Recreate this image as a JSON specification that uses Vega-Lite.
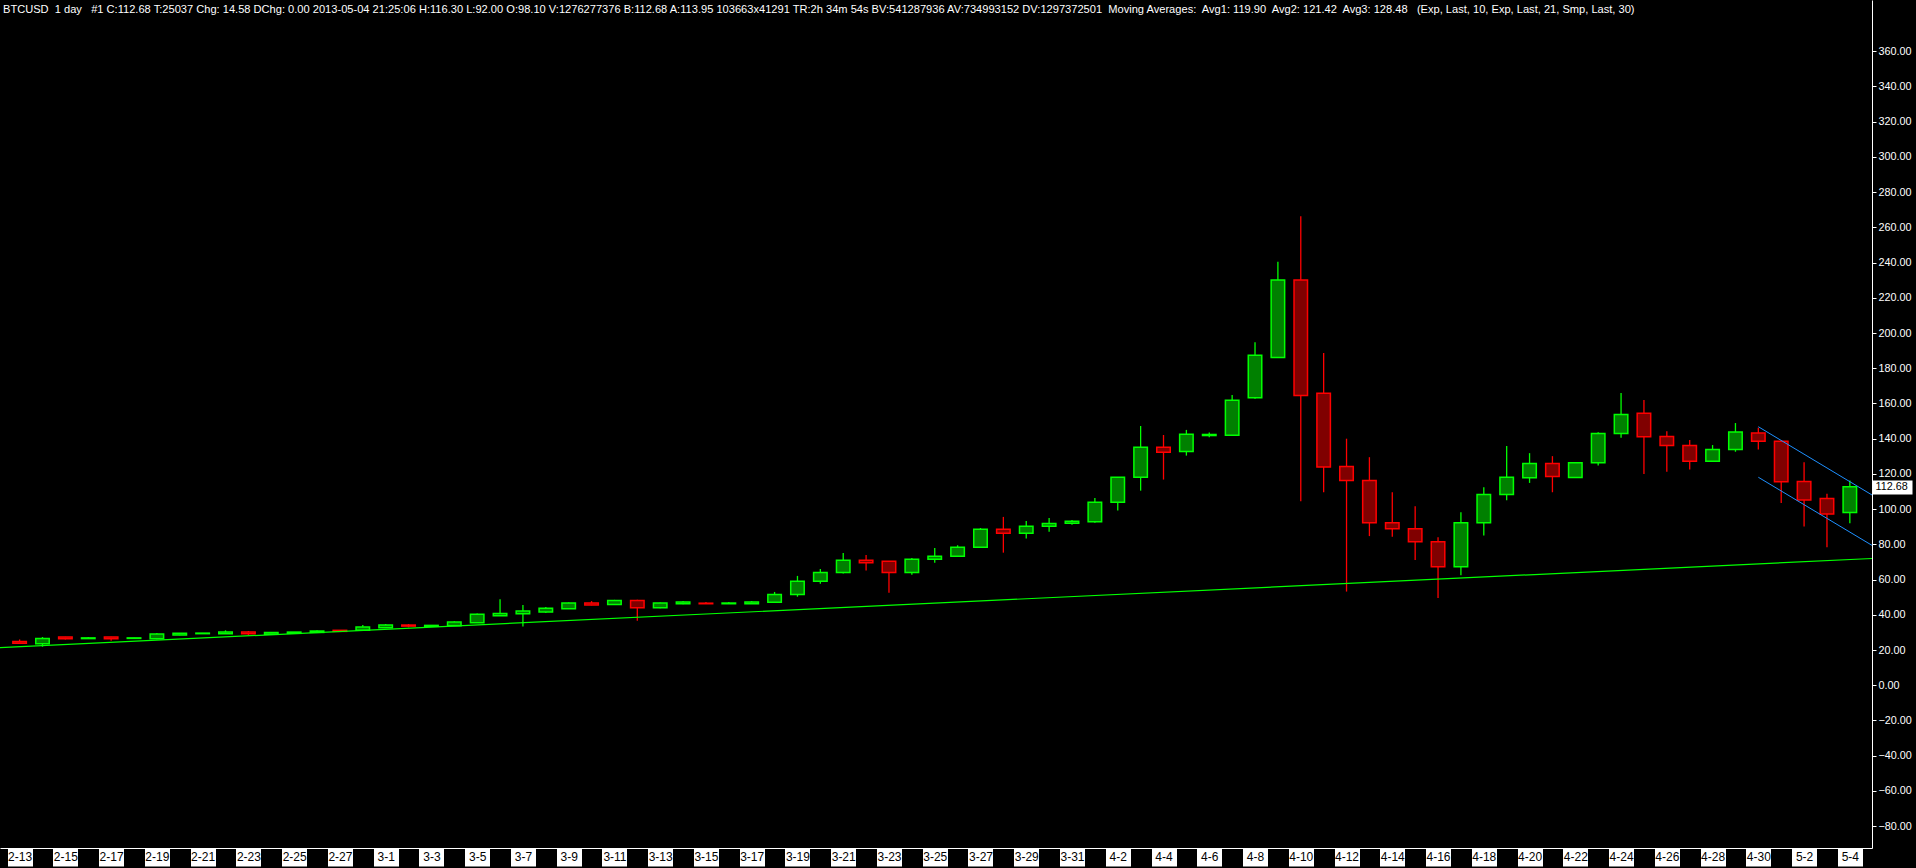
{
  "$schema": "https://vega.github.io/schema/vega-lite/v6.json",
  "width": 1872,
  "height": 848,
  "autosize": {"type": "none"},
  "padding": {"left": 0, "top": 0, "right": 44, "bottom": 20},
  "background": "#000000",
  "title": {
    "text": "BTCUSD\u00a0 1 day\u00a0\u00a0 #1 C:112.68 T:25037 Chg: 14.58 DChg: 0.00 2013-05-04 21:25:06 H:116.30 L:92.00 O:98.10 V:1276277376 B:112.68 A:113.95 103663x41291 TR:2h 34m 54s BV:541287936 AV:734993152 DV:1297372501\u00a0 Moving Averages:\u00a0 Avg1: 119.90\u00a0 Avg2: 121.42\u00a0 Avg3: 128.48\u00a0\u00a0 (Exp, Last, 10, Exp, Last, 21, Smp, Last, 30)",
    "anchor": "start",
    "frame": "group",
    "color": "#ffffff",
    "font": "Liberation Sans, Arial, sans-serif",
    "fontSize": 11.1,
    "fontWeight": "normal",
    "baseline": "top",
    "offset": -15,
    "dx": 3
  },
  "config": {
    "view": {"stroke": null},
    "axis": {"grid": false}
  },
  "datasets": {
    "ohlc": [
      {"date": "2013-02-13", "open": 24.9, "high": 26.0, "low": 23.7, "close": 23.8},
      {"date": "2013-02-14", "open": 23.6, "high": 27.4, "low": 21.9, "close": 26.6},
      {"date": "2013-02-15", "open": 27.4, "high": 27.5, "low": 26.0, "close": 26.4},
      {"date": "2013-02-16", "open": 26.5, "high": 27.4, "low": 26.4, "close": 26.9},
      {"date": "2013-02-17", "open": 27.4, "high": 27.5, "low": 25.3, "close": 26.4},
      {"date": "2013-02-18", "open": 26.6, "high": 27.0, "low": 26.5, "close": 26.9},
      {"date": "2013-02-19", "open": 26.4, "high": 29.7, "low": 26.2, "close": 29.1},
      {"date": "2013-02-20", "open": 28.5, "high": 29.6, "low": 28.4, "close": 29.5},
      {"date": "2013-02-21", "open": 29.3, "high": 29.7, "low": 29.2, "close": 29.6},
      {"date": "2013-02-22", "open": 29.3, "high": 31.2, "low": 29.2, "close": 30.2},
      {"date": "2013-02-23", "open": 30.2, "high": 30.8, "low": 28.3, "close": 29.3},
      {"date": "2013-02-24", "open": 28.9, "high": 30.2, "low": 28.8, "close": 29.9},
      {"date": "2013-02-25", "open": 29.5, "high": 30.3, "low": 29.4, "close": 30.2},
      {"date": "2013-02-26", "open": 30.0, "high": 31.2, "low": 29.9, "close": 30.8},
      {"date": "2013-02-27", "open": 31.2, "high": 31.4, "low": 30.5, "close": 30.6},
      {"date": "2013-02-28", "open": 31.2, "high": 34.2, "low": 31.0, "close": 33.1},
      {"date": "2013-03-01", "open": 32.7, "high": 34.8, "low": 32.5, "close": 34.2},
      {"date": "2013-03-02", "open": 34.2, "high": 34.8, "low": 32.9, "close": 33.6},
      {"date": "2013-03-03", "open": 33.5, "high": 34.2, "low": 33.4, "close": 34.0},
      {"date": "2013-03-04", "open": 33.8, "high": 36.3, "low": 33.6, "close": 35.9},
      {"date": "2013-03-05", "open": 35.5, "high": 40.8, "low": 35.3, "close": 40.3},
      {"date": "2013-03-06", "open": 39.5, "high": 48.9, "low": 39.3, "close": 40.8},
      {"date": "2013-03-07", "open": 40.6, "high": 45.6, "low": 33.3, "close": 42.1},
      {"date": "2013-03-08", "open": 41.6, "high": 44.4, "low": 41.0, "close": 43.8},
      {"date": "2013-03-09", "open": 43.5, "high": 47.0, "low": 43.3, "close": 46.7},
      {"date": "2013-03-10", "open": 46.7, "high": 47.8, "low": 45.4, "close": 45.6},
      {"date": "2013-03-11", "open": 45.8, "high": 48.5, "low": 45.6, "close": 48.2},
      {"date": "2013-03-12", "open": 48.2, "high": 48.5, "low": 36.7, "close": 44.0},
      {"date": "2013-03-13", "open": 44.0, "high": 47.0, "low": 43.7, "close": 46.7},
      {"date": "2013-03-14", "open": 46.3, "high": 47.8, "low": 46.0, "close": 47.3},
      {"date": "2013-03-15", "open": 46.6, "high": 47.3, "low": 46.2, "close": 46.3},
      {"date": "2013-03-16", "open": 46.3, "high": 47.3, "low": 46.2, "close": 46.7},
      {"date": "2013-03-17", "open": 46.3, "high": 47.9, "low": 46.2, "close": 47.3},
      {"date": "2013-03-18", "open": 47.1, "high": 53.0, "low": 46.9, "close": 51.6},
      {"date": "2013-03-19", "open": 51.6, "high": 62.1, "low": 50.3, "close": 59.0},
      {"date": "2013-03-20", "open": 59.0, "high": 66.0, "low": 57.7, "close": 64.1},
      {"date": "2013-03-21", "open": 64.0, "high": 75.1, "low": 63.4, "close": 71.0},
      {"date": "2013-03-22", "open": 71.0, "high": 74.0, "low": 65.1, "close": 69.6},
      {"date": "2013-03-23", "open": 70.4, "high": 70.5, "low": 52.6, "close": 64.0},
      {"date": "2013-03-24", "open": 64.0, "high": 72.3, "low": 62.8, "close": 71.5},
      {"date": "2013-03-25", "open": 71.5, "high": 78.0, "low": 69.6, "close": 73.2},
      {"date": "2013-03-26", "open": 73.2, "high": 79.5, "low": 73.0, "close": 78.3},
      {"date": "2013-03-27", "open": 78.3, "high": 89.3, "low": 78.0, "close": 88.6},
      {"date": "2013-03-28", "open": 88.6, "high": 95.6, "low": 75.3, "close": 86.3},
      {"date": "2013-03-29", "open": 86.3, "high": 93.3, "low": 83.3, "close": 90.3},
      {"date": "2013-03-30", "open": 90.3, "high": 95.0, "low": 87.2, "close": 91.8},
      {"date": "2013-03-31", "open": 92.0, "high": 93.9, "low": 91.2, "close": 93.1},
      {"date": "2013-04-01", "open": 92.9, "high": 106.3, "low": 92.3, "close": 103.9},
      {"date": "2013-04-02", "open": 103.9, "high": 118.3, "low": 99.2, "close": 118.1},
      {"date": "2013-04-03", "open": 118.1, "high": 147.2, "low": 110.5, "close": 135.1},
      {"date": "2013-04-04", "open": 135.1, "high": 142.1, "low": 116.8, "close": 132.3},
      {"date": "2013-04-05", "open": 132.7, "high": 145.0, "low": 130.4, "close": 142.5},
      {"date": "2013-04-06", "open": 141.8, "high": 143.5, "low": 140.8, "close": 142.4},
      {"date": "2013-04-07", "open": 142.0, "high": 164.8, "low": 141.5, "close": 161.8},
      {"date": "2013-04-08", "open": 163.3, "high": 194.8, "low": 162.7, "close": 187.4},
      {"date": "2013-04-09", "open": 186.1, "high": 240.5, "low": 186.0, "close": 230.1},
      {"date": "2013-04-10", "open": 230.1, "high": 266.3, "low": 104.5, "close": 164.6},
      {"date": "2013-04-11", "open": 165.8, "high": 188.7, "low": 109.6, "close": 124.0},
      {"date": "2013-04-12", "open": 124.2, "high": 140.0, "low": 53.2, "close": 116.2},
      {"date": "2013-04-13", "open": 116.2, "high": 129.5, "low": 84.7, "close": 92.3},
      {"date": "2013-04-14", "open": 92.3, "high": 109.6, "low": 84.4, "close": 88.9},
      {"date": "2013-04-15", "open": 88.9, "high": 101.6, "low": 71.1, "close": 81.5},
      {"date": "2013-04-16", "open": 81.5, "high": 84.0, "low": 49.5, "close": 67.3},
      {"date": "2013-04-17", "open": 67.3, "high": 98.2, "low": 62.4, "close": 92.3},
      {"date": "2013-04-18", "open": 92.3, "high": 112.4, "low": 85.1, "close": 108.3},
      {"date": "2013-04-19", "open": 108.3, "high": 135.8, "low": 105.0, "close": 118.1},
      {"date": "2013-04-20", "open": 117.8, "high": 131.8, "low": 114.9, "close": 125.9},
      {"date": "2013-04-21", "open": 125.9, "high": 130.1, "low": 109.6, "close": 118.5},
      {"date": "2013-04-22", "open": 118.0, "high": 126.5, "low": 117.8, "close": 126.3},
      {"date": "2013-04-23", "open": 126.3, "high": 143.6, "low": 124.8, "close": 143.0},
      {"date": "2013-04-24", "open": 143.0, "high": 166.0, "low": 140.5, "close": 153.8},
      {"date": "2013-04-25", "open": 154.4, "high": 162.0, "low": 120.0, "close": 141.1},
      {"date": "2013-04-26", "open": 141.3, "high": 144.3, "low": 121.2, "close": 136.2},
      {"date": "2013-04-27", "open": 136.2, "high": 139.2, "low": 122.5, "close": 127.2},
      {"date": "2013-04-28", "open": 127.2, "high": 136.4, "low": 127.0, "close": 133.9},
      {"date": "2013-04-29", "open": 133.9, "high": 148.9, "low": 132.6, "close": 143.8},
      {"date": "2013-04-30", "open": 143.2, "high": 146.2, "low": 133.9, "close": 138.6},
      {"date": "2013-05-01", "open": 138.6, "high": 138.8, "low": 103.5, "close": 115.5},
      {"date": "2013-05-02", "open": 115.7, "high": 126.7, "low": 90.2, "close": 105.2},
      {"date": "2013-05-03", "open": 106.0, "high": 108.7, "low": 78.3, "close": 97.3},
      {"date": "2013-05-04", "open": 98.1, "high": 116.3, "low": 92.0, "close": 112.68}
    ],
    "trend": [
      {"date": "2013-02-12", "value": 21.28},
      {"date": "2013-05-06", "value": 72.62}
    ],
    "channel": [
      {"line": "upper", "date": "2013-04-30", "value": 146.8},
      {"line": "upper", "date": "2013-05-05", "value": 107.8},
      {"line": "lower", "date": "2013-04-30", "value": 118.1},
      {"line": "lower", "date": "2013-05-05", "value": 79.2}
    ]
  },
  "resolve": {"axis": {"x": "independent", "y": "independent"}},
  "layer": [
    {
      "data": {"name": "ohlc"},
      "mark": {"type": "rule", "strokeWidth": 1.3},
      "encoding": {
        "x": {"field": "date", "type": "temporal", "axis": null, "scale": {"type": "utc", "domain": [{"year": 2013, "month": 2, "date": 12, "hours": 8, "minutes": 40, "utc": true}, {"year": 2013, "month": 5, "date": 4, "hours": 18, "minutes": 0, "utc": true}]}},
        "y": {"field": "low", "type": "quantitative", "scale": {"domain": [-92.4, 389.1], "nice": false, "zero": false}, "axis": null},
        "y2": {"field": "high"},
        "stroke": {"condition": {"test": "datum.close >= datum.open", "value": "#00ff00"}, "value": "#ff0000"}
      }
    },
    {
      "data": {"name": "ohlc"},
      "mark": {"type": "bar", "size": 13.5, "strokeWidth": 1.5},
      "encoding": {
        "x": {
          "field": "date", "type": "temporal",
          "scale": {"type": "utc", "domain": [{"year": 2013, "month": 2, "date": 12, "hours": 8, "minutes": 40, "utc": true}, {"year": 2013, "month": 5, "date": 4, "hours": 18, "minutes": 0, "utc": true}]},
          "axis": {
            "orient": "bottom",
            "title": null,
            "values": [1360713600000, 1360886400000, 1361059200000, 1361232000000, 1361404800000, 1361577600000, 1361750400000, 1361923200000, 1362096000000, 1362268800000, 1362441600000, 1362614400000, 1362787200000, 1362960000000, 1363132800000, 1363305600000, 1363478400000, 1363651200000, 1363824000000, 1363996800000, 1364169600000, 1364342400000, 1364515200000, 1364688000000, 1364860800000, 1365033600000, 1365206400000, 1365379200000, 1365552000000, 1365724800000, 1365897600000, 1366070400000, 1366243200000, 1366416000000, 1366588800000, 1366761600000, 1366934400000, 1367107200000, 1367280000000, 1367452800000, 1367625600000],
            "format": "%-m-%-d",
            "domainColor": "#ffffff",
            "domainWidth": 1,
            "tickColor": "#ffffff",
            "tickSize": 18,
            "tickWidth": 25,
            "labelColor": "#000000",
            "labelPadding": -15,
            "labelFont": "Liberation Sans, Arial, sans-serif",
            "labelFontSize": 12,
            "labelAngle": 0,
            "labelOverlap": false,
            "labelFlush": false,
            "labelBound": false,
            "grid": false
          }
        },
        "y": {
          "field": "open", "type": "quantitative",
          "scale": {"domain": [-92.4, 389.1], "nice": false, "zero": false},
          "axis": {
            "orient": "right",
            "title": null,
            "values": [-80, -60, -40, -20, 0, 20, 40, 60, 80, 100, 120, 140, 160, 180, 200, 220, 240, 260, 280, 300, 320, 340, 360],
            "format": ".2f",
            "domainColor": "#ffffff",
            "domainWidth": 1,
            "tickColor": "#ffffff",
            "tickSize": 4,
            "labelColor": "#ffffff",
            "labelPadding": 2,
            "labelFont": "Liberation Sans, Arial, sans-serif",
            "labelFontSize": 10.8,
            "labelOverlap": false,
            "labelBound": false,
            "grid": false
          }
        },
        "y2": {"field": "close"},
        "fill": {"condition": {"test": "datum.close >= datum.open", "value": "#008000"}, "value": "#800000"},
        "stroke": {"condition": {"test": "datum.close >= datum.open", "value": "#00ff00"}, "value": "#ff0000"}
      }
    },
    {
      "data": {"name": "trend"},
      "mark": {"type": "line", "color": "#00ff00", "strokeWidth": 1.2, "clip": true},
      "encoding": {
        "x": {"field": "date", "type": "temporal", "axis": null},
        "y": {"field": "value", "type": "quantitative", "axis": null}
      }
    },
    {
      "data": {"name": "channel"},
      "mark": {"type": "line", "color": "#1e90ff", "strokeWidth": 1, "clip": true},
      "encoding": {
        "x": {"field": "date", "type": "temporal", "axis": null},
        "y": {"field": "value", "type": "quantitative", "axis": null},
        "detail": {"field": "line"}
      }
    },
    {
      "data": {"name": "ohlc"},
      "mark": {"type": "point", "opacity": 0},
      "encoding": {
        "x": {
          "field": "date", "type": "temporal",
          "axis": {
            "orient": "bottom",
            "title": null,
            "values": [1367810496000],
            "labelExpr": "'22'",
            "domain": false,
            "tickColor": "#00c000",
            "tickSize": 15,
            "tickWidth": 19,
            "tickOffset": 0,
            "labelColor": "#ffffff",
            "labelPadding": -14,
            "labelFont": "Liberation Sans, Arial, sans-serif",
            "labelFontSize": 12,
            "labelAngle": 0,
            "labelFlush": false,
            "labelOverlap": false,
            "labelBound": false,
            "offset": 4,
            "grid": false
          }
        },
        "y": {
          "field": "close", "type": "quantitative",
          "axis": {
            "orient": "right",
            "title": null,
            "values": [112.68],
            "format": ".2f",
            "domain": false,
            "tickColor": "#ffffff",
            "tickSize": 40,
            "tickWidth": 14,
            "labelColor": "#000000",
            "labelPadding": -37,
            "labelFont": "Liberation Sans, Arial, sans-serif",
            "labelFontSize": 10.8,
            "labelBound": false,
            "grid": false
          }
        }
      }
    }
  ]
}
